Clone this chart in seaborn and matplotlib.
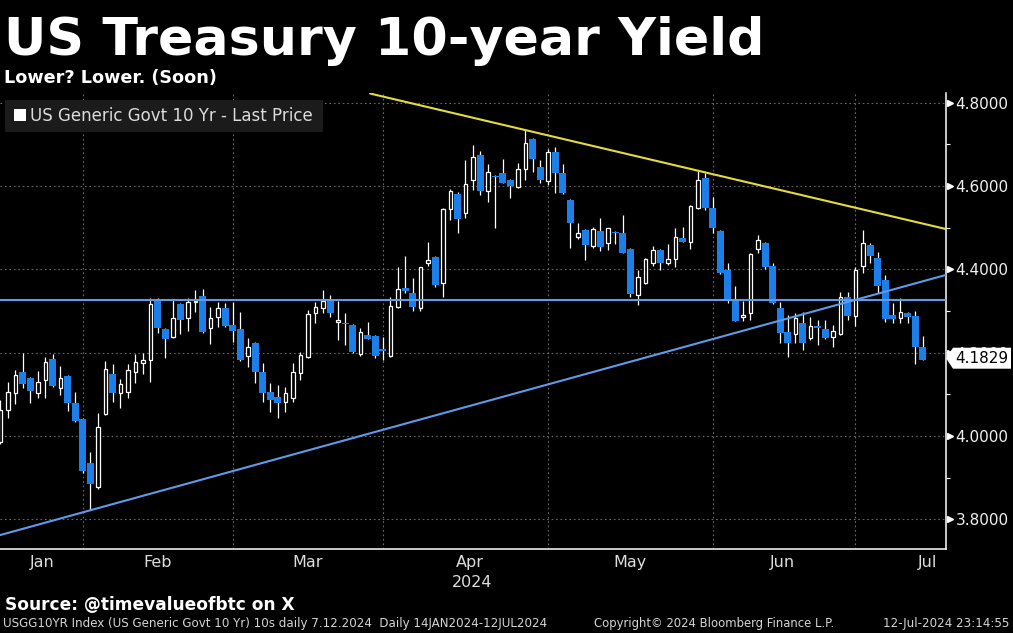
import numpy as np
import pandas as pd
import matplotlib
matplotlib.use("Agg")
import matplotlib.pyplot as plt
import matplotlib.transforms as mtransforms
from matplotlib.patches import Rectangle, Polygon
import seaborn as sns

# ---------------- data ----------------
jan_days = [16, 17, 18, 19, 22, 23, 24, 25, 26, 29, 30, 31]
feb_days = [1, 2, 5, 6, 7, 8, 9, 12, 13, 14, 15, 16, 20, 21, 22, 23, 26, 27, 28, 29]
mar_days = [1, 4, 5, 6, 7, 8, 11, 12, 13, 14, 15, 18, 19, 20, 21, 22, 25, 26, 27, 28]
apr_days = [1, 2, 3, 4, 5, 8, 9, 10, 11, 12, 15, 16, 17, 18, 19, 22, 23, 24, 25, 26, 29, 30]
may_days = [1, 2, 3, 6, 7, 8, 9, 10, 13, 14, 15, 16, 17, 20, 21, 22, 23, 24, 28, 29, 30, 31]
jun_days = [3, 4, 5, 6, 7, 10, 11, 12, 13, 14, 17, 18, 20, 21, 24, 25, 26, 27, 28]
jul_days = [1, 2, 3, 5, 8, 9, 10, 11, 12]

open_ = [
    3.986, 4.062, 4.102, 4.153, 4.138, 4.102, 4.133, 4.185, 4.114, 4.144, 4.078, 4.040,
    3.934, 3.878, 4.052, 4.149, 4.102, 4.105, 4.153, 4.174, 4.181, 4.326, 4.257, 4.237,
    4.317, 4.282, 4.321, 4.336, 4.258, 4.285, 4.308, 4.266,
    4.257, 4.193, 4.224, 4.153, 4.105, 4.094, 4.082, 4.090, 4.150, 4.189, 4.294, 4.306,
    4.328, 4.274, 4.272, 4.266, 4.197, 4.242, 4.240, 4.208,
    4.192, 4.309, 4.354, 4.344, 4.306, 4.414, 4.429, 4.366, 4.544, 4.581, 4.534, 4.614,
    4.674, 4.588, 4.624, 4.632, 4.614, 4.597, 4.642, 4.713, 4.646, 4.613,
    4.682, 4.632, 4.566, 4.477, 4.494, 4.456, 4.492, 4.464, 4.490, 4.486, 4.448, 4.338,
    4.368, 4.414, 4.446, 4.414, 4.424, 4.474, 4.466, 4.546, 4.618, 4.546,
    4.492, 4.398, 4.326, 4.286, 4.294, 4.448, 4.464, 4.408, 4.306, 4.250, 4.245, 4.272,
    4.234, 4.264, 4.256, 4.237, 4.245, 4.333, 4.288,
    4.408, 4.458, 4.426, 4.374, 4.290, 4.282, 4.296, 4.288, 4.213,
]
high = [
    4.086, 4.130, 4.158, 4.198, 4.142, 4.156, 4.190, 4.197, 4.168, 4.146, 4.105, 4.042,
    3.962, 4.056, 4.180, 4.173, 4.136, 4.172, 4.197, 4.198, 4.330, 4.332, 4.258, 4.326,
    4.320, 4.330, 4.350, 4.352, 4.309, 4.322, 4.318, 4.322,
    4.297, 4.234, 4.226, 4.174, 4.126, 4.122, 4.117, 4.174, 4.202, 4.302, 4.322, 4.350,
    4.338, 4.325, 4.294, 4.268, 4.258, 4.274, 4.242, 4.237,
    4.334, 4.406, 4.432, 4.378, 4.406, 4.466, 4.432, 4.548, 4.592, 4.585, 4.662, 4.698,
    4.685, 4.654, 4.626, 4.666, 4.616, 4.656, 4.734, 4.716, 4.662, 4.690,
    4.694, 4.654, 4.568, 4.510, 4.496, 4.502, 4.522, 4.500, 4.492, 4.530, 4.450, 4.398,
    4.426, 4.456, 4.448, 4.461, 4.498, 4.502, 4.554, 4.637, 4.630, 4.573,
    4.494, 4.414, 4.360, 4.325, 4.440, 4.482, 4.466, 4.414, 4.322, 4.290, 4.294, 4.298,
    4.286, 4.278, 4.278, 4.266, 4.346, 4.346, 4.406,
    4.494, 4.464, 4.442, 4.386, 4.318, 4.330, 4.298, 4.301, 4.240,
]
low = [
    3.980, 4.042, 4.076, 4.114, 4.078, 4.092, 4.090, 4.118, 4.098, 4.060, 4.034, 3.912,
    3.822, 3.872, 4.050, 4.082, 4.068, 4.092, 4.128, 4.148, 4.130, 4.246, 4.186, 4.235,
    4.244, 4.252, 4.298, 4.246, 4.221, 4.262, 4.262, 4.226,
    4.180, 4.166, 4.126, 4.082, 4.058, 4.042, 4.058, 4.082, 4.134, 4.187, 4.272, 4.294,
    4.286, 4.230, 4.218, 4.200, 4.192, 4.232, 4.186, 4.182,
    4.190, 4.307, 4.344, 4.301, 4.300, 4.408, 4.358, 4.333, 4.518, 4.486, 4.522, 4.590,
    4.578, 4.562, 4.498, 4.606, 4.570, 4.595, 4.614, 4.634, 4.606, 4.602,
    4.582, 4.580, 4.450, 4.472, 4.422, 4.450, 4.445, 4.446, 4.461, 4.438, 4.334, 4.314,
    4.365, 4.408, 4.398, 4.410, 4.406, 4.466, 4.448, 4.544, 4.542, 4.486,
    4.388, 4.318, 4.275, 4.277, 4.278, 4.440, 4.400, 4.316, 4.224, 4.190, 4.222, 4.206,
    4.230, 4.218, 4.232, 4.213, 4.243, 4.278, 4.264,
    4.390, 4.414, 4.342, 4.274, 4.270, 4.270, 4.272, 4.173, 4.182,
]
close = [
    4.062, 4.105, 4.146, 4.125, 4.108, 4.130, 4.178, 4.120, 4.140, 4.078, 4.036, 3.916,
    3.884, 4.022, 4.161, 4.102, 4.124, 4.158, 4.178, 4.181, 4.317, 4.258, 4.232, 4.282,
    4.278, 4.321, 4.325, 4.250, 4.282, 4.306, 4.265, 4.252,
    4.182, 4.214, 4.154, 4.104, 4.085, 4.078, 4.102, 4.154, 4.194, 4.292, 4.309, 4.325,
    4.294, 4.278, 4.268, 4.202, 4.249, 4.233, 4.192, 4.204,
    4.312, 4.352, 4.349, 4.310, 4.405, 4.422, 4.362, 4.544, 4.588, 4.521, 4.605, 4.669,
    4.589, 4.633, 4.621, 4.608, 4.601, 4.642, 4.704, 4.664, 4.614, 4.681,
    4.630, 4.582, 4.510, 4.488, 4.458, 4.496, 4.454, 4.498, 4.486, 4.440, 4.341, 4.382,
    4.424, 4.446, 4.414, 4.424, 4.478, 4.466, 4.552, 4.614, 4.548, 4.500,
    4.390, 4.326, 4.277, 4.290, 4.437, 4.470, 4.406, 4.318, 4.246, 4.224, 4.282, 4.224,
    4.264, 4.258, 4.234, 4.252, 4.333, 4.288, 4.398,
    4.462, 4.432, 4.360, 4.280, 4.280, 4.298, 4.286, 4.213, 4.1829,
]

month_labels = ["Jan", "Feb", "Mar", "Apr", "May", "Jun", "Jul"]
month_label_pos = [5.55, 21.0, 41.0, 62.6, 83.9, 104.3, 123.7]
y_major = [3.8, 4.0, 4.2, 4.4, 4.6, 4.8]
y_minor = [3.9, 4.1, 4.3, 4.5, 4.7]

hline_value = 4.326                      # horizontal support/resistance
support_x = [0.0, 126.0]                 # rising trend line
support_y = [3.762, 4.386]
resist_x = [49.3, 126.0]                 # falling trend line
resist_y = [4.822, 4.497]
last_price = 1.0 * close[-1]

title = "US Treasury 10-year Yield"
subtitle = "Lower? Lower. (Soon)"
legend_label = "US Generic Govt 10 Yr - Last Price"
source_text = "Source: @timevalueofbtc on X"
footer_left = "USGG10YR Index (US Generic Govt 10 Yr) 10s daily 7.12.2024  Daily 14JAN2024-12JUL2024"
footer_mid = "Copyright\u00a9 2024 Bloomberg Finance L.P."
footer_right = "12-Jul-2024 23:14:55"

# ---------------- build frame ----------------
dates = ([pd.Timestamp(2024, 1, d) for d in jan_days] + [pd.Timestamp(2024, 2, d) for d in feb_days]
         + [pd.Timestamp(2024, 3, d) for d in mar_days] + [pd.Timestamp(2024, 4, d) for d in apr_days]
         + [pd.Timestamp(2024, 5, d) for d in may_days] + [pd.Timestamp(2024, 6, d) for d in jun_days]
         + [pd.Timestamp(2024, 7, d) for d in jul_days])
df = pd.DataFrame({"date": dates, "open": open_, "high": high, "low": low, "close": close})
df["i"] = np.arange(len(df))
months = df["date"].dt.month.values
month_end_idx = [int(i) for i in range(len(df) - 1) if months[i + 1] != months[i]]

# ---------------- style ----------------
W, H = 1013, 633
sns.set_style("dark", {"axes.facecolor": "black", "figure.facecolor": "black"})
plt.rcParams["font.family"] = ["DejaVu Sans"]

fig = plt.figure(figsize=(W / 100, H / 100), dpi=100, facecolor="black")
ax_left, ax_right, ax_top, ax_bot = 0.0, 945.6, 92.7, 549.0
ax = fig.add_axes([ax_left / W, 1 - ax_bot / H, (ax_right - ax_left) / W, (ax_bot - ax_top) / H])
ax.set_facecolor("black")

ymin, ymax = 3.7284, 4.8240
xmin, xmax = -0.05, 126.04
ax.set_xlim(xmin, xmax)
ax.set_ylim(ymin, ymax)

BLUE = "#1c7fe8"
up = df["close"] >= df["open"]
bottom = np.minimum(df["open"], df["close"])
height = np.maximum((df["close"] - df["open"]).abs(), 0.0035)

# wicks
ax.vlines(df["i"], df["low"], df["high"], color="white", lw=0.9, zorder=3)
# down candles: solid blue
ax.bar(df["i"][~up], height[~up], bottom=bottom[~up], width=0.9, color=BLUE,
       edgecolor="none", lw=0, zorder=4)
# up candles: hollow white
ax.bar(df["i"][up], height[up], bottom=bottom[up], width=0.46, facecolor="black",
       edgecolor="white", lw=0.9, zorder=4)

# trend lines
ax.axhline(hline_value, color="#5f9ae8", lw=1.5, zorder=6)
sns.lineplot(x=support_x, y=support_y, ax=ax, color="#5f9ae8", lw=1.5, zorder=6,
             estimator=None, sort=False)
sns.lineplot(x=resist_x, y=resist_y, ax=ax, color="#e4dc3c", lw=1.5, zorder=6,
             estimator=None, sort=False)

# grid
ax.set_xticks(month_end_idx)
ax.set_xticklabels([""] * len(month_end_idx))
ax.set_xticks(month_label_pos, minor=True)
ax.set_xticklabels(month_labels, minor=True)
ax.set_yticks(y_major)
ax.set_yticklabels([f"{v:.4f}" for v in y_major])
ax.set_yticks(y_minor, minor=True)
ax.grid(True, which="major", axis="both", color="#6a6a6a", lw=0.8, ls=(0, (1.5, 2.5)))
ax.grid(False, which="minor")
ax.set_axisbelow(True)

ax.yaxis.tick_right()
ax.tick_params(axis="y", which="major", length=0, pad=7, labelsize=11, labelcolor="#f0f0f0")
ax.tick_params(axis="y", which="minor", length=3, width=0.8, color="white", direction="out")
ax.tick_params(axis="x", which="major", length=3.5, width=0.8, color="white", direction="out")
ax.tick_params(axis="x", which="minor", length=0, pad=4.5, labelsize=11.5, labelcolor="#dcdcdc")
ax.set_xlabel("")
ax.set_ylabel("")

for s in ["top", "left"]:
    ax.spines[s].set_visible(False)
for s in ["bottom", "right"]:
    ax.spines[s].set_visible(True)
    ax.spines[s].set_color("white")
    ax.spines[s].set_linewidth(1.1)

blend = mtransforms.blended_transform_factory(ax.transAxes, ax.transData)
ax.plot([1.0045] * len(y_major), y_major, transform=blend, ls="none", marker=">",
        ms=4.5, color="white", clip_on=False, zorder=7)

# legend box
def px2ax(px, py):
    return ((px - ax_left) / (ax_right - ax_left), (ax_bot - py) / (ax_bot - ax_top))

lx0, ly0 = px2ax(5, 132.5)
lx1, ly1 = px2ax(322.5, 100)
ax.add_patch(Rectangle((lx0, ly0), lx1 - lx0, ly1 - ly0, transform=ax.transAxes,
                       facecolor="#1b1b1b", edgecolor="none", zorder=1))
sx0, sy0 = px2ax(14, 121.5)
sx1, sy1 = px2ax(26, 109.5)
ax.add_patch(Rectangle((sx0, sy0), sx1 - sx0, sy1 - sy0, transform=ax.transAxes,
                       facecolor="white", edgecolor="none", zorder=8))
tx, ty = px2ax(30, 121.5)
ax.text(tx, ty, legend_label, transform=ax.transAxes, ha="left", va="baseline",
        fontsize=12, color="#dcdcdc", zorder=8)

# last price tag
frac = (last_price - ymin) / (ymax - ymin)
yc = ax_bot - frac * (ax_bot - ax_top) - 1.5
pts = [(946, yc), (953, yc - 10.5), (1011, yc - 10.5), (1011, yc + 10.5), (953, yc + 10.5)]
fig.patches.append(Polygon([(x / W, 1 - y / H) for x, y in pts], closed=True,
                           transform=fig.transFigure, facecolor="white", edgecolor="none",
                           zorder=5))
fig.text(955 / W, 1 - yc / H, f"{last_price:.4f}", ha="left", va="center",
         fontsize=11, color="black", zorder=6)

# texts
renderer = fig.canvas.get_renderer()

def fit_text(x_px, base_px, s, width_px, size0, **kw):
    t = fig.text(x_px / W, 1 - base_px / H, s, fontsize=size0, ha="left", va="baseline", **kw)
    w = t.get_window_extent(renderer).width
    t.set_fontsize(size0 * width_px / w)
    return t

fit_text(4, 55, title, 761, 37, color="white", fontweight="bold")
fit_text(4, 83, subtitle, 213, 12.5, color="white", fontweight="bold")
fit_text(5, 610, source_text, 288, 12, color="white", fontweight="bold")
fit_text(3, 627, footer_left, 542, 7.5, color="#d4d4d4")
fit_text(594, 627, footer_mid, 240, 7.5, color="#d4d4d4")
fit_text(883, 627, footer_right, 126, 7.5, color="#d4d4d4")
fig.text(472 / W, 1 - 587 / H, "2024", ha="center", va="baseline", fontsize=11.5, color="#dcdcdc")

fig.savefig("out.png", dpi=100, facecolor="black")
